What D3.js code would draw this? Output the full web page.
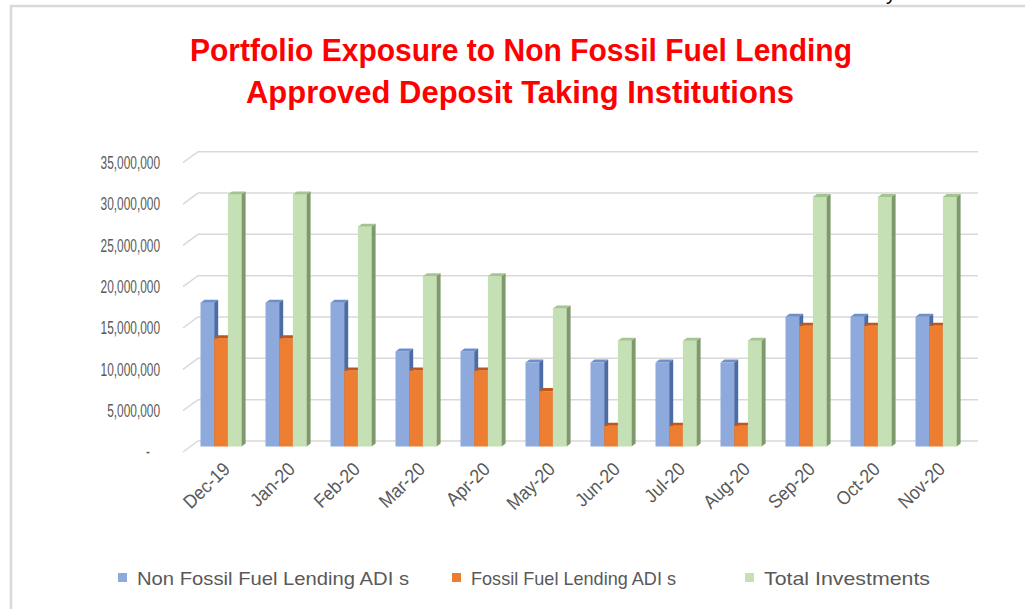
<!DOCTYPE html>
<meta charset="utf-8">
<script src="https://d3js.org/d3.v7.min.js"></script>
<style>
  body { margin: 0; background: #fff; }
  text { font-family: "Liberation Sans", Arial, sans-serif; }
</style>
<div id="chart"></div>
<script>
// data
var months = ["Dec-19", "Jan-20", "Feb-20", "Mar-20", "Apr-20", "May-20",
              "Jun-20", "Jul-20", "Aug-20", "Sep-20", "Oct-20", "Nov-20"];
var nonFossil = [17400000, 17400000, 17400000, 11500000, 11500000, 10150000,
                 10150000, 10150000, 10150000, 15700000, 15700000, 15700000];
var fossil = [13100000, 13100000, 9200000, 9200000, 9200000, 6700000,
              2500000, 2500000, 2500000, 14600000, 14600000, 14600000];
var total = [30500000, 30500000, 26600000, 20600000, 20600000, 16700000,
             12800000, 12800000, 12800000, 30200000, 30200000, 30200000];
var seriesNames = ["Non Fossil Fuel Lending ADI s", "Fossil Fuel Lending ADI s", "Total Investments"];
var yTicks = [0, 5000000, 10000000, 15000000, 20000000, 25000000, 30000000, 35000000];

var series = [nonFossil, fossil, total];
var colors = [
  {front: "#8eaadc", top: "#6f8fcc", side: "#4d6ca6"},
  {front: "#ed7d31", top: "#c0561a", side: "#b5531b"},
  {front: "#c5e0b4", top: "#a3c690", side: "#7e9a6c"}
];

var W = 1025, H = 609;
var svg = d3.select("#chart").append("svg")
  .attr("width", W).attr("height", H);

// squeeze a text horizontally, the reference font is narrow
function squeeze(sel, k) {
  sel.each(function() {
    var len = this.getComputedTextLength();
    d3.select(this).attr("textLength", len * k).attr("lengthAdjust", "spacingAndGlyphs");
  });
}

// frame
svg.append("path")
  .attr("d", "M11,609 V6 H1025")
  .attr("fill", "none")
  .attr("stroke", "#d9d9d9")
  .attr("stroke-width", 2.5);
svg.append("text")
  .attr("x", 886).attr("y", 0)
  .style("font-size", "20px")
  .attr("fill", "#000")
  .text("y");

// title
var title = svg.append("g").attr("fill", "#ff0000")
  .attr("text-anchor", "middle")
  .style("font-weight", "bold").style("font-size", "32px");
title.append("text").attr("x", 521).attr("y", 61)
  .attr("textLength", 662).attr("lengthAdjust", "spacingAndGlyphs")
  .text("Portfolio Exposure to Non Fossil Fuel Lending");
title.append("text").attr("x", 520).attr("y", 103)
  .attr("textLength", 548).attr("lengthAdjust", "spacingAndGlyphs")
  .text("Approved Deposit Taking Institutions");

// 3d geometry: front plane of floor, back wall offset by depth
var depth = {dx: 15, dy: -11};
var x = d3.scaleBand().domain(months).range([183, 963]);
var y = d3.scaleLinear().domain([0, 35000000]).range([452, 162.7]);

// gridlines on the back wall + side wall diagonals
svg.append("g").selectAll("path")
  .data(yTicks)
  .enter().append("path")
    .attr("d", function(d) {
      var yy = y(d);
      return "M" + x.range()[0] + "," + yy + " L" + (x.range()[0] + depth.dx) + "," + (yy + depth.dy) +
             " H" + (x.range()[1] + depth.dx);
    })
    .attr("fill", "none")
    .attr("stroke", "#d9d9d9")
    .attr("stroke-width", 1.5);

// y axis
var yAxis = svg.append("g")
  .attr("transform", "translate(160,0)")
  .call(d3.axisLeft(y).tickValues(yTicks).tickSize(0).tickPadding(0)
    .tickFormat(function(d) { return d === 0 ? "-" : d3.format(",")(d); }));
yAxis.select(".domain").remove();
yAxis.selectAll("text")
  .attr("fill", "#595959")
  .attr("font-size", 18)
  .style("font-size", "18px")
  .style("font-family", "'Liberation Sans', sans-serif")
  .attr("dx", function(d) { return d === 0 ? -10 : 0; })
  .call(squeeze, 0.66);

// bars, placed at mid depth
var mid = {dx: depth.dx / 2, dy: depth.dy / 2};
var barW = 13.7, groupPad = 10, bd = {dx: 4, dy: -3};
var bars = svg.append("g");
months.forEach(function(m, i) {
  series.forEach(function(s, k) {
    var x0 = x(m) + mid.dx + groupPad + k * barW;
    var x1 = x0 + barW;
    var y0 = y(0) + mid.dy;
    var y1 = y(s[i]) + mid.dy;
    var c = colors[k];
    // front
    bars.append("rect")
      .attr("x", x0).attr("y", y1)
      .attr("width", barW).attr("height", y0 - y1)
      .attr("fill", c.front);
    // top
    bars.append("path")
      .attr("d", "M" + x0 + "," + y1 + " L" + (x0 + bd.dx) + "," + (y1 + bd.dy) +
                 " L" + (x1 + bd.dx) + "," + (y1 + bd.dy) + " L" + x1 + "," + y1 + "Z")
      .attr("fill", c.top);
    // side
    bars.append("path")
      .attr("d", "M" + x1 + "," + y1 + " L" + (x1 + bd.dx) + "," + (y1 + bd.dy) +
                 " L" + (x1 + bd.dx) + "," + (y0 + bd.dy) + " L" + x1 + "," + y0 + "Z")
      .attr("fill", c.side);
  });
});

// x axis labels
var xAxis = svg.append("g")
  .attr("transform", "translate(" + (mid.dx - 1) + "," + (y(0) + 9) + ")")
  .call(d3.axisBottom(x).tickSize(0).tickPadding(0));
xAxis.select(".domain").remove();
xAxis.selectAll("text")
  .attr("fill", "#595959")
  .style("font-size", "19px")
  .style("font-family", "'Liberation Sans', sans-serif")
  .attr("text-anchor", "end")
  .attr("dy", "0.7em")
  .attr("transform", "rotate(-44)")
  .call(squeeze, 0.92);

// legend
var legendX = [118, 452, 745];
var legendW = [272, 205, 166];
var legend = svg.append("g").selectAll("g")
  .data(seriesNames)
  .enter().append("g")
    .attr("transform", function(d, i) { return "translate(" + legendX[i] + ",573)"; });
legend.append("rect")
  .attr("width", 9).attr("height", 9)
  .attr("fill", function(d, i) { return colors[i].front; });
legend.append("text")
  .attr("x", 19).attr("y", 12)
  .attr("fill", "#595959")
  .style("font-size", "19px")
  .attr("textLength", function(d, i) { return legendW[i]; })
  .attr("lengthAdjust", "spacingAndGlyphs")
  .text(function(d) { return d; });
</script>
